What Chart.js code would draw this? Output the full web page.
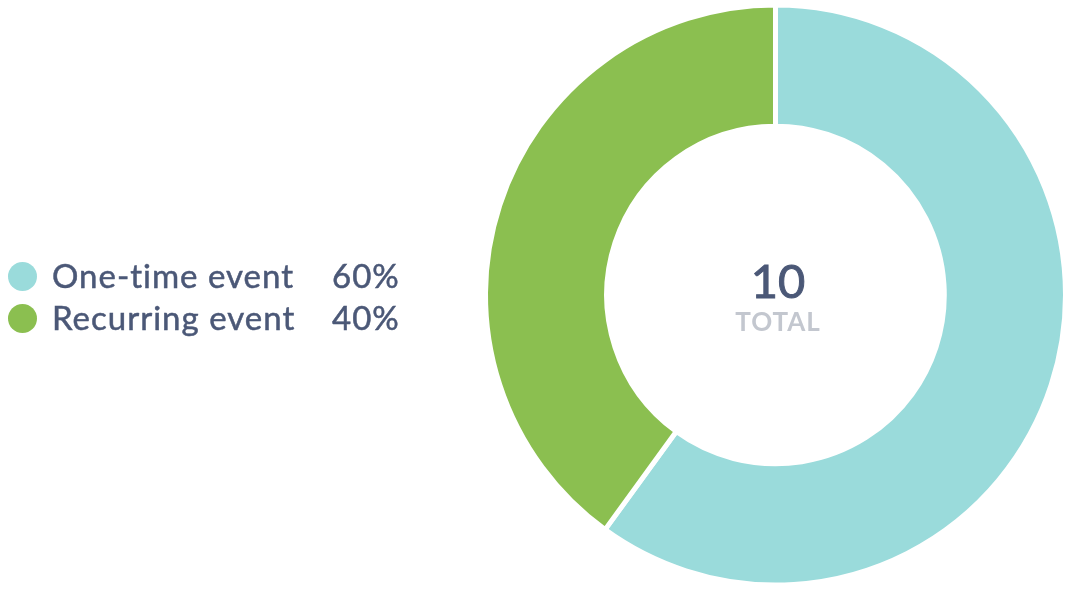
<!DOCTYPE html>
<html>
<head>
<meta charset="utf-8">
<script src="https://cdn.jsdelivr.net/npm/chart.js@4"></script>
<style>
  html, body { margin: 0; padding: 0; background: #ffffff; overflow: hidden; }
  #wrap { position: relative; width: 1068px; height: 589px; }
  #legend { position: absolute; left: 8px; top: 254px; font-family: Lato, "Noto Sans", sans-serif; color: #4b5877; font-size: 33px; letter-spacing: 1px; -webkit-text-stroke: 0.5px #4b5877; }
  .row { position: relative; height: 42px; line-height: 42px; white-space: nowrap; }
  .dot { position: absolute; left: 0; top: 8px; width: 29px; height: 29px; border-radius: 50%; }
  .lbl { position: absolute; left: 44px; top: 0; }
  .pct { position: absolute; left: 324px; top: 0; }
  #center { position: absolute; left: 678px; top: 253px; width: 200px; text-align: center; font-family: Lato, "Noto Sans", sans-serif; }
  #total { font-size: 47px; font-weight: normal; color: #4b5877; line-height: 54px; -webkit-text-stroke: 1px #4b5877; }
  #tlabel { font-size: 26px; font-weight: bold; color: #c3c7cf; line-height: 28px; letter-spacing: 1px; }
</style>
</head>
<body>
<div id="wrap">
  <canvas id="c" width="1068" height="589"></canvas>
  <div id="legend"></div>
  <div id="center"><div id="total"></div><div id="tlabel">TOTAL</div></div>
</div>
<script>
const categories = ["One-time event", "Recurring event"];
const counts = [6, 4];
const percentLabels = ["60%", "40%"];
const colors = ["#9adbdb", "#8bbf50"];
const totalLabel = "10";

const legend = document.getElementById('legend');
categories.forEach((name, i) => {
  const row = document.createElement('div');
  row.className = 'row';
  row.innerHTML = '<span class="dot" style="background:' + colors[i] + '"></span>' +
    '<span class="lbl">' + name + '</span><span class="pct">' + percentLabels[i] + '</span>';
  legend.appendChild(row);
});
document.getElementById('total').textContent = totalLabel;

new Chart(document.getElementById('c'), {
  type: 'doughnut',
  data: {
    labels: categories,
    datasets: [{
      data: counts,
      backgroundColor: colors,
      borderColor: '#ffffff',
      borderWidth: 5,
      hoverOffset: 0,
      offset: 0
    }]
  },
  options: {
    responsive: false,
    animation: false,
    cutout: '58.2%',
    layout: { padding: { left: 483, right: -6, top: 1, bottom: -3 } },
    plugins: { legend: { display: false }, tooltip: { enabled: false } }
  }
});
</script>
</body>
</html>
